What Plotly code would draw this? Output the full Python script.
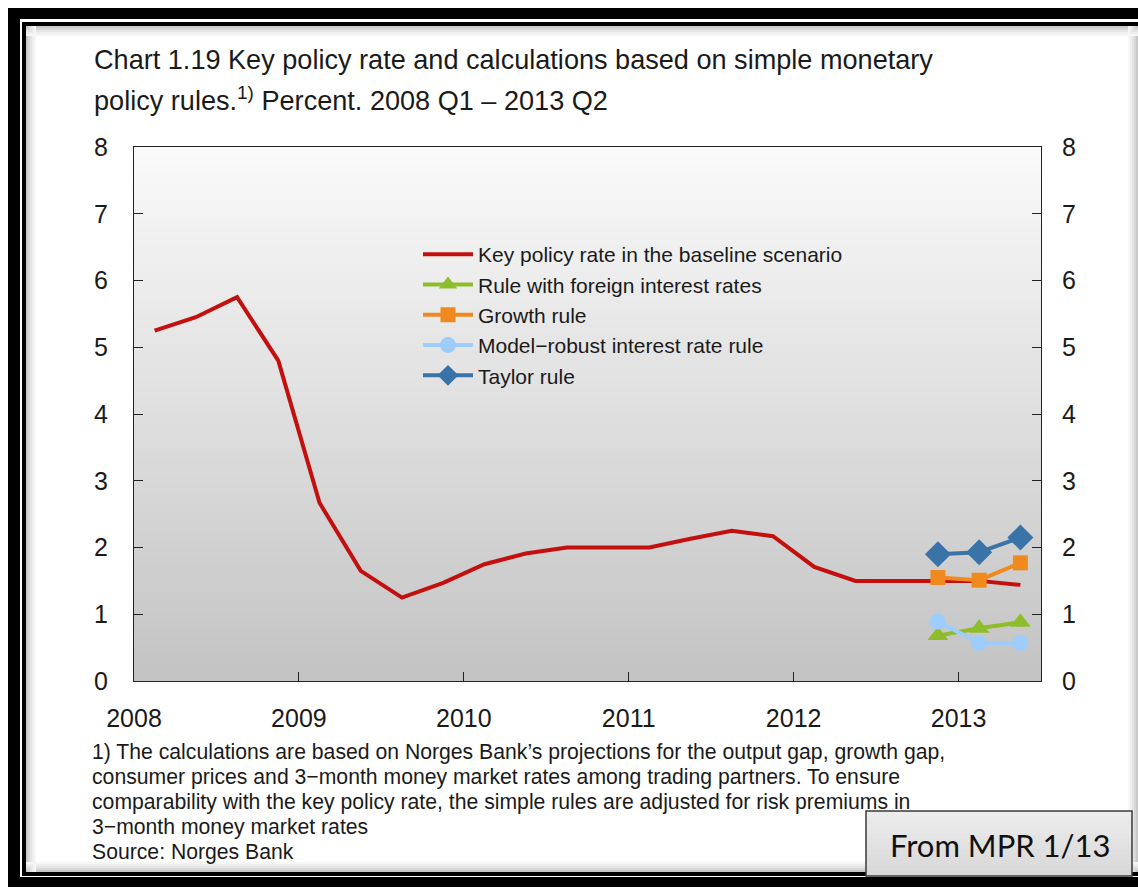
import plotly.graph_objects as go

# ---------------- data ----------------
policy_quarters = [
    "2008 Q1", "2008 Q2", "2008 Q3", "2008 Q4",
    "2009 Q1", "2009 Q2", "2009 Q3", "2009 Q4",
    "2010 Q1", "2010 Q2", "2010 Q3", "2010 Q4",
    "2011 Q1", "2011 Q2", "2011 Q3", "2011 Q4",
    "2012 Q1", "2012 Q2", "2012 Q3", "2012 Q4",
    "2013 Q1", "2013 Q2",
]
key_policy_rate = [5.25, 5.45, 5.75, 4.80, 2.67, 1.65, 1.25, 1.47,
                   1.75, 1.91, 2.00, 2.00, 2.00, 2.13, 2.25, 2.17,
                   1.71, 1.50, 1.50, 1.50, 1.50, 1.44]

rule_quarters = ["2012 Q4", "2013 Q1", "2013 Q2"]
foreign_rule = [0.68, 0.79, 0.88]
growth_rule = [1.55, 1.51, 1.77]
robust_rule = [0.89, 0.57, 0.57]
taylor_rule = [1.90, 1.93, 2.15]

year_ticks = [2008, 2009, 2010, 2011, 2012, 2013]
year_labels = ["2008", "2009", "2010", "2011", "2012", "2013"]
y_ticks = [0, 1, 2, 3, 4, 5, 6, 7, 8]

title_line1 = "Chart 1.19 Key policy rate and calculations based on simple monetary"
title_line2 = "policy rules.<sup>1)</sup> Percent. 2008 Q1 \u2013 2013 Q2"
footnote_lines = [
    "1) The calculations are based on Norges Bank\u2019s projections for the output gap, growth gap,",
    "consumer prices and 3\u2212month money market rates among trading partners. To ensure",
    "comparability with the key policy rate, the simple rules are adjusted for risk premiums in",
    "3\u2212month money market rates",
    "Source: Norges Bank",
]
stamp_text = "From MPR 1/13"


def q_to_x(label):
    year, q = label.split(" Q")
    return int(year) + (int(q) - 0.5) / 4.0


x_policy = [q_to_x(q) for q in policy_quarters]
x_rules = [q_to_x(q) for q in rule_quarters]

# ---------------- layout geometry ----------------
W, H = 1138, 889
L, R, T, B = 134, 1041, 147, 681
PW, PH = R - L, B - T


def px(x):
    return (x - L) / PW


def py(y):
    return (B - y) / PH


FONT = "Liberation Sans, Arial, sans-serif"
TXT = "#1a1a1a"

fig = go.Figure()

fig.add_trace(go.Scatter(
    x=x_policy, y=key_policy_rate, mode="lines",
    name="Key policy rate in the baseline scenario",
    line=dict(color="#c3100e", width=4),
))
fig.add_trace(go.Scatter(
    x=x_rules, y=foreign_rule, mode="lines+markers",
    name="Rule with foreign interest rates",
    line=dict(color="#8dbd2b", width=4),
    marker=dict(symbol="triangle-up", size=18, color="#8dbd2b"),
))
fig.add_trace(go.Scatter(
    x=x_rules, y=growth_rule, mode="lines+markers",
    name="Growth rule",
    line=dict(color="#f08a1e", width=4),
    marker=dict(symbol="square", size=15, color="#f08a1e"),
))
fig.add_trace(go.Scatter(
    x=x_rules, y=robust_rule, mode="lines+markers",
    name="Model\u2212robust interest rate rule",
    line=dict(color="#9dcdfb", width=4),
    marker=dict(symbol="circle", size=16, color="#9dcdfb"),
))
fig.add_trace(go.Scatter(
    x=x_rules, y=taylor_rule, mode="lines+markers",
    name="Taylor rule",
    line=dict(color="#3a73a8", width=4),
    marker=dict(symbol="diamond", size=20, color="#3a73a8"),
))
# invisible trace to carry the right-hand axis
fig.add_trace(go.Scatter(
    x=[2008], y=[0], yaxis="y2", mode="markers", showlegend=False,
    marker=dict(opacity=0), hoverinfo="skip",
))

shapes = []
# plot-area vertical gradient
N = 60
top_c, bot_c = 250, 195
for i in range(N):
    f0, f1 = i / N, (i + 1) / N
    v = round(bot_c + (top_c - bot_c) * (i + 0.5) / N)
    shapes.append(dict(type="rect", xref="paper", yref="paper",
                       x0=0, x1=1, y0=f0, y1=f1 + 0.002,
                       fillcolor=f"rgb({v},{v},{v})", line=dict(width=0),
                       layer="below"))


def rect_px(x0, y0, x1, y1, color, layer="below", line=None):
    d = dict(type="rect", xref="paper", yref="paper",
             x0=px(x0), x1=px(x1), y0=py(y1), y1=py(y0),
             fillcolor=color, line=line or dict(width=0), layer=layer)
    shapes.append(d)


# inner shadow bands
for k, g in enumerate([200, 215, 228, 238, 246]):
    c = f"rgb({g},{g},{g})"
    o = k * 2
    rect_px(26, 26 + o, 1138, 28 + o, c)              # top
    rect_px(26 + o, 26, 28 + o, 872, c)               # left
    rect_px(26, 870 - o, 1138, 872 - o, c)            # bottom
    rect_px(1136 - o, 26, 1138 - o, 872, c)           # right
# frame: outer thick black, white gap, inner black line
rect_px(8, 8, 1138, 19, "black")
rect_px(8, 8, 20, 887, "black")
rect_px(8, 877, 1138, 887, "black")
rect_px(22, 22, 1138, 26, "black")
rect_px(22, 22, 26, 876, "black")
rect_px(22, 872, 1138, 876, "black")

# "From MPR" stamp box
for i in range(12):
    y0 = 811 + i * 65 / 12
    v = round(236 - 20 * i / 11)
    rect_px(866, y0, 1132, y0 + 65 / 12 + 0.5, f"rgb({v},{v},{v})", layer="above")
rect_px(866, 811, 1132, 876, "rgba(0,0,0,0)", layer="above",
        line=dict(color="#3a3a3a", width=1.5))

annotations = []
annotations.append(dict(text=title_line1, x=px(92), y=py(60), xref="paper", yref="paper",
                        xanchor="left", yanchor="middle", showarrow=False,
                        font=dict(family=FONT, size=27.1, color=TXT)))
annotations.append(dict(text=title_line2, x=px(92), y=py(99), xref="paper", yref="paper",
                        xanchor="left", yanchor="middle", showarrow=False,
                        font=dict(family=FONT, size=27.1, color=TXT)))
for i, line in enumerate(footnote_lines):
    annotations.append(dict(text=line, x=px(90), y=py(752 + 25 * i), xref="paper", yref="paper",
                            xanchor="left", yanchor="middle", showarrow=False,
                            font=dict(family=FONT, size=21.2, color=TXT)))
annotations.append(dict(text=stamp_text, x=px(1000), y=py(845), xref="paper", yref="paper",
                        xanchor="center", yanchor="middle", showarrow=False,
                        font=dict(family="Lato, Carlito, sans-serif", size=31, color="#111111")))

fig.update_layout(
    width=W, height=H,
    margin=dict(l=L, r=W - R, t=T, b=H - B, pad=0),
    paper_bgcolor="white",
    plot_bgcolor="rgba(0,0,0,0)",
    font=dict(family=FONT, color=TXT),
    showlegend=True,
    legend=dict(x=px(418), y=py(234), xanchor="left", yanchor="top",
                bgcolor="rgba(0,0,0,0)", font=dict(family=FONT, size=21, color=TXT),
                tracegroupgap=0, itemwidth=50),
    xaxis=dict(range=[2008, 2013.5], tickvals=year_ticks, ticktext=year_labels,
               ticks="inside", ticklen=9, tickwidth=1, tickcolor="#222",
               showline=True, linecolor="#222", linewidth=1.2, mirror=True,
               showgrid=False, zeroline=False, ticklabelstandoff=15,
               tickfont=dict(family=FONT, size=25, color=TXT)),
    yaxis=dict(range=[0, 8], tickvals=y_ticks,
               ticks="inside", ticklen=9, tickwidth=1, tickcolor="#222",
               showline=True, linecolor="#222", linewidth=1.2, mirror=True,
               showgrid=False, zeroline=False, ticklabelstandoff=20,
               tickfont=dict(family=FONT, size=25, color=TXT)),
    yaxis2=dict(range=[0, 8], tickvals=y_ticks, overlaying="y", side="right",
                ticks="inside", ticklen=9, tickwidth=1, tickcolor="#222",
                showline=False, showgrid=False, zeroline=False, ticklabelstandoff=20,
                tickfont=dict(family=FONT, size=25, color=TXT)),
    shapes=shapes,
    annotations=annotations,
)

fig.write_html("out.html", config={"displayModeBar": False},
               post_script="document.body.style.margin='0';document.body.style.overflow='hidden';")
